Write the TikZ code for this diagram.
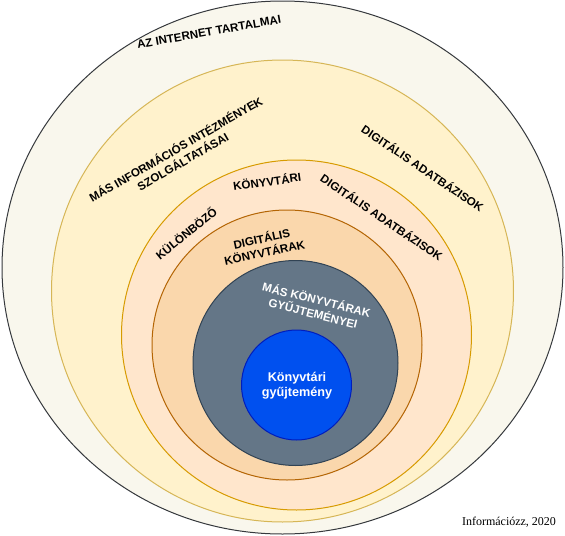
\documentclass[tikz,border=0pt]{standalone}
\usepackage{fontspec}
\setmainfont{Liberation Sans}
\newfontfamily\serifnote{Liberation Serif}
\definecolor{webfill}{HTML}{F9F7ED}
\definecolor{webline}{HTML}{36393D}
\definecolor{infofill}{HTML}{FFF2CC}
\definecolor{infoline}{HTML}{D6B656}
\definecolor{libfill}{HTML}{FFE6CC}
\definecolor{libline}{HTML}{D79B00}
\definecolor{digfill}{HTML}{FAD7AC}
\definecolor{digline}{HTML}{B46504}
\definecolor{collfill}{HTML}{647687}
\definecolor{collline}{HTML}{314354}
\definecolor{ownfill}{HTML}{0050EF}
\definecolor{ownline}{HTML}{001DBC}

\begin{document}
\begin{tikzpicture}[x=0.75pt, y=-0.75pt,
    ring/.style={line width=0.75pt},
    caps/.style={font=\bfseries\fontsize{8.7}{10.5}\selectfont,
      align=center, inner sep=0pt},
    capswhite/.style={caps, text=white}
  ]
  \useasboundingbox (0,0) rectangle (565,536);
  % rings, from the outside in
  \draw[ring, fill=webfill, draw=webline] (282.5,267.5) ellipse [x radius=280.5, y radius=266.5];
  \draw[ring, fill=infofill, draw=infoline] (282.5,291) circle [radius=231];
  \draw[ring, fill=libfill, draw=libline] (296.5,335) circle [radius=175];
  \draw[ring, fill=digfill, draw=digline] (287,345) circle [radius=135];
  \draw[ring, fill=collfill, draw=collline] (295.5,363) circle [radius=102.5];
  \draw[ring, fill=ownfill, draw=ownline] (296.5,385) circle [radius=55];

  \node[caps, rotate=10] (internet) at (209,32) {AZ INTERNET TARTALMAI};
  \node[caps, rotate=30] (otherinst) at (179,155) {MÁS INFORMÁCIÓS INTÉZMÉNYEK\\SZOLGÁLTATÁSAI};
  \node[caps, rotate=-34] (outerdb) at (423,168) {DIGITÁLIS ADATBÁZISOK};
  \node[caps, rotate=39] (various) at (186,233) {KÜLÖNBÖZŐ};
  \node[caps, rotate=8] (libraries) at (267,181) {KÖNYVTÁRI};
  \node[caps, rotate=-34] (innerdb) at (382,217) {DIGITÁLIS ADATBÁZISOK};
  \node[caps, rotate=12] (diglib) at (263,245) {DIGITÁLIS\\KÖNYVTÁRAK};
  \node[capswhite, rotate=-14] (othercoll) at (315,306) {MÁS KÖNYVTÁRAK\\GYŰJTEMÉNYEI};
  \node[capswhite, font=\bfseries\fontsize{9.5}{11.5}\selectfont] (owncoll) at (297,386) {Könyvtári\\gyűjtemény};
  \node[font=\serifnote\fontsize{9}{10}\selectfont, inner sep=0pt] (credit) at (509,522) {Információzz, 2020};
\end{tikzpicture}
\end{document}
